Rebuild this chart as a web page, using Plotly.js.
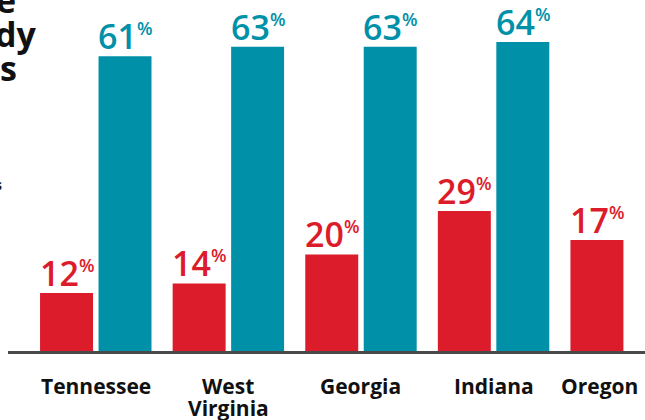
<!DOCTYPE html>
<html>
<head>
<meta charset="utf-8">
<script src="https://cdn.plot.ly/plotly-3.0.1.min.js"></script>
<style>html,body{margin:0;padding:0;background:#fff;}</style>
</head>
<body>
<div id="chart" style="width:645px;height:420px;"></div>
<script>
// Data
var categories = ["Tennessee", "West Virginia", "Georgia", "Indiana", "Oregon"];
var tickLabels = ["Tennessee", "West", "Georgia", "Indiana", "Oregon"];
var tickLabels2 = ["", "Virginia", "", "", ""];
var redValues = [12, 14, 20, 29, 23];      // bar heights as drawn
var redLabels = [12, 14, 20, 29, 17];      // printed labels
var tealValues = [61, 63, 63, 64, null];
var tealLabels = [61, 63, 63, 64, null];
var titleFragments = ["e", "dy", "s"];

var RED = "#dc1c2b";
var TEAL = "#0091a8";
var SLOT_PX = 29.25;

function pct(v) {
  return v + '<sup><span style="font-size:18px">%</span></sup>';
}

var traces = [
  {type: "bar", x: categories, y: redValues, marker: {color: RED}, hoverinfo: "skip"},
  {type: "bar", x: categories, y: tealValues, marker: {color: TEAL}, hoverinfo: "skip"}
];

var tickFont = {family: "Open Sans", size: 21, weight: 700, color: "#111"};
var annotations = [];
categories.forEach(function (c, i) {
  if (redValues[i] != null) {
    annotations.push({x: c, y: redValues[i], xref: "x", yref: "y", xshift: -SLOT_PX, yshift: -5,
      yanchor: "bottom", xanchor: "center", showarrow: false, text: pct(redLabels[i]),
      font: {family: "Open Sans", size: 34, weight: 600, color: RED}});
  }
  if (tealValues[i] != null) {
    annotations.push({x: c, y: tealValues[i], xref: "x", yref: "y", xshift: SLOT_PX, yshift: -5,
      yanchor: "bottom", xanchor: "center", showarrow: false, text: pct(tealLabels[i]),
      font: {family: "Open Sans", size: 34, weight: 600, color: TEAL}});
  }
  var xs = tealValues[i] == null ? -SLOT_PX + 3 : 0;
  annotations.push({x: c, y: 0, xref: "x", yref: "paper", yanchor: "top", xanchor: "center",
    xshift: xs, yshift: -19, showarrow: false, text: tickLabels[i], font: tickFont});
  if (tickLabels2[i]) {
    annotations.push({x: c, y: 0, xref: "x", yref: "paper", yanchor: "top", xanchor: "center",
      xshift: xs, yshift: -41, showarrow: false, text: tickLabels2[i], font: tickFont});
  }
});

// cropped title fragments at the left edge (baselines at 14, 48, 82 px)
var titleBase = [14, 48, 82];
titleFragments.forEach(function (t, i) {
  annotations.push({x: 0, xref: "paper", y: 0, yref: "paper", xanchor: "right", yanchor: "bottom",
    xshift: [10, 31, 11][i], yshift: 351 - titleBase[i] - 11, showarrow: false, text: t,
    font: {family: "Open Sans", size: 34, weight: 700, color: "#111"}});
});
annotations.push({x: 0, xref: "paper", y: 0, yref: "paper", xanchor: "right", yanchor: "bottom",
  xshift: -4, yshift: 351 - 192 - 4, showarrow: false, text: "s",
  font: {family: "Open Sans", size: 14, weight: 700, color: "#111"}});

var layout = {
  width: 645, height: 420,
  margin: {l: 8, r: 0, t: 0, b: 69, pad: 0},
  paper_bgcolor: "#ffffff", plot_bgcolor: "#ffffff",
  showlegend: false,
  barmode: "group", bargap: 0.118, bargroupgap: 0.094,
  xaxis: {type: "category", range: [-0.662, 4.142], showline: true, linecolor: "#4a4a4a", linewidth: 3,
    showticklabels: false, ticks: "", showgrid: false, zeroline: false, fixedrange: true},
  yaxis: {range: [0, 72.67], visible: false, fixedrange: true},
  annotations: annotations
};

Plotly.newPlot("chart", traces, layout, {displayModeBar: false, staticPlot: true});
</script>
</body>
</html>
